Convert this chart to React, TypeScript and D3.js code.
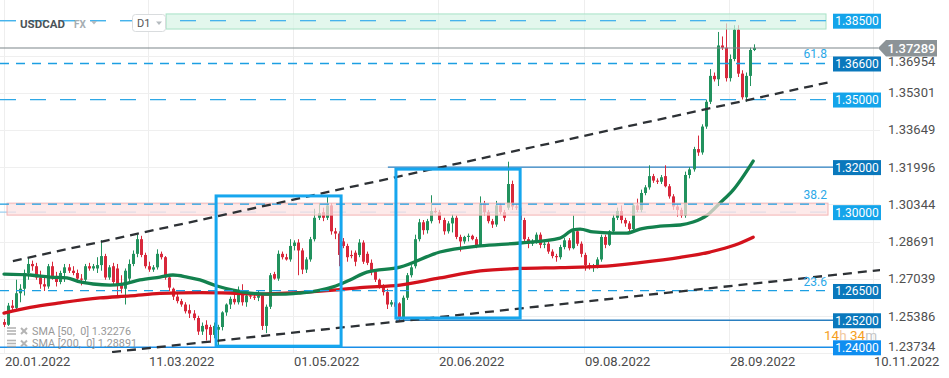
import React from 'react';
import * as d3 from 'd3';

const W = 949;
const H = 378;

// ---------- DATA ----------
// daily candles [open, high, low, close]
const ohlc: number[][] = [
  [1.2512,1.2525,1.2490,1.2500],[1.2500,1.2597,1.2495,1.2585],[1.2585,1.2610,1.2560,1.2575],[1.2575,1.2700,1.2565,1.2640],
  [1.2640,1.2680,1.2600,1.2660],[1.2660,1.2745,1.2630,1.2730],[1.2730,1.2796,1.2700,1.2770],[1.2770,1.2785,1.2740,1.2760],
  [1.2760,1.2775,1.2700,1.2710],[1.2710,1.2740,1.2660,1.2680],[1.2680,1.2710,1.2650,1.2670],[1.2670,1.2770,1.2660,1.2760],
  [1.2760,1.2780,1.2700,1.2715],[1.2715,1.2735,1.2670,1.2690],[1.2690,1.2740,1.2680,1.2730],[1.2730,1.2770,1.2690,1.2755],
  [1.2755,1.2770,1.2730,1.2740],[1.2740,1.2760,1.2720,1.2730],[1.2730,1.2745,1.2690,1.2705],[1.2705,1.2725,1.2675,1.2700],
  [1.2700,1.2770,1.2690,1.2760],[1.2760,1.2775,1.2740,1.2750],[1.2750,1.2770,1.2740,1.2760],[1.2750,1.2800,1.2730,1.2765],
  [1.2765,1.2876,1.2740,1.2805],[1.2805,1.2815,1.2700,1.2710],[1.2710,1.2765,1.2700,1.2755],[1.2760,1.2775,1.2680,1.2690],
  [1.2750,1.2770,1.2625,1.2680],[1.2680,1.2720,1.2640,1.2660],[1.2660,1.2750,1.2590,1.2740],[1.2705,1.2790,1.2690,1.2770],
  [1.2770,1.2830,1.2760,1.2815],[1.2815,1.2900,1.2800,1.2880],[1.2880,1.2895,1.2800,1.2810],[1.2810,1.2820,1.2750,1.2760],
  [1.2760,1.2780,1.2735,1.2745],[1.2745,1.2765,1.2735,1.2755],[1.2755,1.2835,1.2745,1.2815],[1.2815,1.2825,1.2790,1.2800],
  [1.2800,1.2805,1.2700,1.2710],[1.2710,1.2720,1.2650,1.2665],[1.2660,1.2665,1.2610,1.2625],[1.2625,1.2640,1.2595,1.2605],
  [1.2605,1.2615,1.2580,1.2590],[1.2590,1.2600,1.2550,1.2560],[1.2565,1.2590,1.2530,1.2550],[1.2550,1.2565,1.2520,1.2530],
  [1.2530,1.2540,1.2455,1.2470],[1.2470,1.2510,1.2455,1.2495],[1.2500,1.2520,1.2430,1.2480],[1.2490,1.2500,1.2420,1.2455],
  [1.2455,1.2510,1.2440,1.2495],[1.2478,1.2500,1.2405,1.2490],[1.2490,1.2560,1.2475,1.2555],[1.2555,1.2595,1.2540,1.2590],
  [1.2590,1.2625,1.2570,1.2615],[1.2615,1.2640,1.2590,1.2600],[1.2600,1.2670,1.2590,1.2650],[1.2650,1.2680,1.2585,1.2600],
  [1.2600,1.2640,1.2580,1.2630],[1.2630,1.2645,1.2615,1.2625],[1.2625,1.2640,1.2610,1.2620],[1.2620,1.2650,1.2605,1.2630],
  [1.2630,1.2640,1.2477,1.2495],[1.2495,1.2590,1.2463,1.2580],[1.2580,1.2730,1.2570,1.2720],[1.2725,1.2735,1.2700,1.2705],
  [1.2705,1.2830,1.2695,1.2815],[1.2815,1.2825,1.2790,1.2800],[1.2800,1.2815,1.2785,1.2790],[1.2790,1.2880,1.2780,1.2850],
  [1.2850,1.2875,1.2830,1.2865],[1.2865,1.2880,1.2720,1.2830],[1.2830,1.2840,1.2725,1.2745],[1.2745,1.2800,1.2730,1.2790],
  [1.2790,1.2890,1.2780,1.2880],[1.2880,1.3015,1.2870,1.2975],[1.2975,1.3040,1.2965,1.2995],[1.3000,1.3020,1.2960,1.2975],
  [1.2975,1.3076,1.2965,1.3030],[1.3030,1.3040,1.2900,1.2915],[1.2915,1.2930,1.2880,1.2905],[1.2905,1.2915,1.2760,1.2810],
  [1.2870,1.2885,1.2840,1.2850],[1.2850,1.2860,1.2780,1.2800],[1.2810,1.2830,1.2795,1.2805],[1.2820,1.2830,1.2760,1.2780],
  [1.2810,1.2880,1.2800,1.2865],[1.2865,1.2875,1.2770,1.2780],[1.2815,1.2825,1.2765,1.2775],[1.2775,1.2790,1.2720,1.2735],
  [1.2735,1.2745,1.2690,1.2700],[1.2700,1.2705,1.2660,1.2670],[1.2670,1.2680,1.2630,1.2645],[1.2645,1.2660,1.2570,1.2590],
  [1.2590,1.2610,1.2580,1.2600],[1.2600,1.2610,1.2560,1.2580],[1.2595,1.2600,1.2518,1.2530],[1.2530,1.2630,1.2520,1.2620],
  [1.2620,1.2730,1.2610,1.2720],[1.2720,1.2765,1.2710,1.2755],[1.2760,1.2900,1.2750,1.2880],[1.2880,1.2970,1.2870,1.2955],
  [1.2955,1.2965,1.2900,1.2920],[1.2920,1.2970,1.2905,1.2960],[1.2960,1.3075,1.2950,1.3005],[1.3005,1.3020,1.2995,1.3000],
  [1.3000,1.3010,1.2950,1.2965],[1.2965,1.2975,1.2900,1.2915],[1.2915,1.2960,1.2905,1.2950],[1.2950,1.2990,1.2910,1.2975],
  [1.2975,1.2985,1.2880,1.2890],[1.2890,1.2900,1.2825,1.2870],[1.2870,1.2895,1.2860,1.2890],[1.2890,1.2905,1.2870,1.2895],
  [1.2895,1.2900,1.2875,1.2880],[1.2880,1.2890,1.2840,1.2850],[1.2850,1.3070,1.2845,1.3040],[1.3040,1.3050,1.2985,1.3000],
  [1.3000,1.3010,1.2950,1.2960],[1.2960,1.2970,1.2930,1.2945],[1.2945,1.3050,1.2935,1.3030],[1.3030,1.3040,1.2990,1.3000],
  [1.3000,1.3010,1.2960,1.2975],[1.3020,1.3224,1.3010,1.3125],[1.3125,1.3140,1.3010,1.3025],[1.3025,1.3035,1.3010,1.3020],
  [1.3020,1.3030,1.2950,1.2965],[1.2965,1.2975,1.2870,1.2880],[1.2880,1.2890,1.2840,1.2860],[1.2860,1.2880,1.2850,1.2870],
  [1.2870,1.2910,1.2860,1.2900],[1.2900,1.2910,1.2840,1.2855],[1.2855,1.2870,1.2840,1.2860],[1.2860,1.2870,1.2815,1.2825],
  [1.2825,1.2835,1.2795,1.2805],[1.2805,1.2815,1.2780,1.2800],[1.2800,1.2855,1.2790,1.2845],[1.2845,1.2885,1.2835,1.2875],
  [1.2875,1.2885,1.2830,1.2840],[1.2840,1.2985,1.2835,1.2915],[1.2915,1.2925,1.2850,1.2860],[1.2860,1.2870,1.2800,1.2815],
  [1.2810,1.2820,1.2740,1.2765],[1.2765,1.2775,1.2745,1.2755],[1.2755,1.2770,1.2735,1.2760],[1.2760,1.2800,1.2750,1.2790],
  [1.2790,1.2900,1.2780,1.2890],[1.2890,1.2900,1.2840,1.2855],[1.2855,1.2920,1.2850,1.2915],[1.2915,1.2990,1.2905,1.2975],
  [1.2975,1.3020,1.2965,1.3005],[1.3005,1.3030,1.2950,1.2965],[1.2965,1.2975,1.2935,1.2950],[1.2950,1.2960,1.2905,1.2925],
  [1.2925,1.3040,1.2915,1.3030],[1.3030,1.3060,1.3000,1.3010],[1.3010,1.3100,1.3000,1.3085],[1.3085,1.3120,1.3075,1.3110],
  [1.3110,1.3208,1.3100,1.3160],[1.3160,1.3170,1.3130,1.3140],[1.3140,1.3150,1.3125,1.3135],[1.3135,1.3165,1.3125,1.3155],
  [1.3160,1.3208,1.3110,1.3115],[1.3115,1.3125,1.3060,1.3070],[1.3070,1.3080,1.3010,1.3025],[1.3025,1.3035,1.2980,1.3010],
  [1.3010,1.3020,1.2975,1.2985],[1.2985,1.3180,1.2975,1.3165],[1.3165,1.3200,1.3150,1.3190],[1.3190,1.3290,1.3180,1.3280],
  [1.3280,1.3340,1.3250,1.3265],[1.3265,1.3390,1.3255,1.3380],[1.3380,1.3500,1.3370,1.3490],[1.3490,1.3635,1.3480,1.3605],
  [1.3605,1.3620,1.3580,1.3590],[1.3590,1.3800,1.3560,1.3740],[1.3740,1.3780,1.3720,1.3730],[1.3730,1.3838,1.3580,1.3595],
  [1.3595,1.3700,1.3580,1.3680],[1.3680,1.3830,1.3670,1.3810],[1.3810,1.3830,1.3600,1.3615],[1.3615,1.3630,1.3500,1.3510],
  [1.3510,1.3620,1.3490,1.3605],[1.3605,1.3730,1.3560,1.3720],[1.3720,1.3745,1.3715,1.3729],
];

const dateTickIdx = [0, 35.7, 71.7, 107.6, 143.8, 179.8, 215.5];
const dateTickLabels = ['20.01.2022', '11.03.2022', '01.05.2022', '20.06.2022', '09.08.2022', '28.09.2022', '10.11.2022'];

const priceTicks = [1.23734, 1.25386, 1.27039, 1.28691, 1.30344, 1.31996, 1.33649, 1.35301, 1.36954];

const sma50Idx = [0, 6.5, 11.4, 15.6, 18.9, 22.1, 26.3, 29.5, 33.7, 38.7, 41.9, 45.4, 48.6, 52.8, 56.8, 61.0, 65.2, 69.2, 73.4, 77.6, 81.6, 85.8, 90.0, 98.2, 108.1, 118.1, 128.0, 137.9, 141.1, 142.9, 146.1, 151.0, 154.5, 157.7, 162.7, 167.7, 170.9, 174.4, 177.6, 180.8, 185.8];
const sma50Val = [1.2725, 1.2721, 1.2712, 1.2708, 1.2690, 1.2681, 1.2676, 1.2681, 1.2699, 1.2712, 1.2721, 1.2712, 1.2699, 1.2672, 1.2654, 1.2641, 1.2636, 1.2636, 1.2641, 1.2650, 1.2668, 1.2699, 1.2734, 1.2756, 1.2823, 1.2850, 1.2863, 1.2885, 1.2921, 1.2925, 1.2912, 1.2907, 1.2907, 1.2925, 1.2938, 1.2943, 1.2956, 1.2987, 1.3041, 1.3098, 1.3227];

const sma200Idx = [0, 6.5, 13.9, 23.8, 31.3, 38.7, 48.6, 56.1, 63.5, 73.4, 83.3, 88.3, 98.2, 108.1, 118.1, 128.0, 137.9, 147.8, 157.7, 167.7, 175.1, 181.3, 185.8];
const sma200Val = [1.2552, 1.2577, 1.2597, 1.2619, 1.2628, 1.2639, 1.2643, 1.2641, 1.2636, 1.2643, 1.2656, 1.2665, 1.2676, 1.2708, 1.2739, 1.2750, 1.2754, 1.2759, 1.2776, 1.2799, 1.2823, 1.2854, 1.2889];

const levelPrices = [1.385, 1.366, 1.35, 1.32, 1.30, 1.265, 1.252, 1.24];
const fibPrices = [1.366, 1.3036, 1.2652];
const fibLabels = ['61.8', '38.2', '23.6'];

const boxIdx = [[52.6, 83.6], [97.2, 128.0]];
const boxPrice = [[1.3072, 1.2405], [1.3191, 1.2530]];

const trendUpperIdx = [2.2, 204.9];
const trendUpperVal = [1.2783, 1.3578];
const trendLowerIdx = [26.8, 217.3];
const trendLowerVal = [1.2379, 1.2743];

const greenBand = [1.3880, 1.3813];
const pinkBand = [1.3040, 1.2987];

const lastPrice = 1.37289;
const sma50Last = 1.32276;
const sma200Last = 1.28891;

// ---------- STYLE / LAYOUT ----------
const PLOT_R = 880;
const PLOT_B = 353;
const BOX_X = 833;
const LINE_END = 826;
const GREEN = '#22925e';
const RED = '#d8283b';
const FONT = 'Roboto, "Noto Sans", Arial, sans-serif';

// per level: line dash (null = solid, 'none' = no line), colour, label box colour, start index
const levelStyle = [
  { dash: '16,14', color: '#46b3ec', box: '#14a4ea', start: -2 },
  { dash: 'none', color: '#1b98dd', box: '#0a78bc', start: -2 },
  { dash: '16,14', color: '#2ea8e6', box: '#14a4ea', start: -2 },
  { dash: null, color: '#2a7fc0', box: '#0a78bc', start: 95.2 },
  { dash: '16,14', color: '#9ccff0', box: '#14a4ea', start: -2 },
  { dash: 'none', color: '#1fa0e4', box: '#0a78bc', start: -2 },
  { dash: null, color: '#2a7fc0', box: '#0a78bc', start: 97.2 },
  { dash: null, color: '#1a8ee8', box: '#0f8ef0', start: -2 },
];

export default function App() {
  const N = ohlc.length;
  const xs = d3.scaleLinear().domain([0, N - 1]).range([4, 754]);
  const ys = d3.scaleLinear().domain([1.24, 1.385]).range([347.3, 20.7]);

  const line = d3
    .line<[number, number]>()
    .x((d) => xs(d[0]))
    .y((d) => ys(d[1]))
    .curve(d3.curveMonotoneX);

  const sma50Pts = sma50Idx.map((v, i) => [v, sma50Val[i]] as [number, number]);
  const sma200Pts = sma200Idx.map((v, i) => [v, sma200Val[i]] as [number, number]);

  const lineStart = (s: number) => (s < 0 ? 0 : xs(s));
  const yLast = ys(lastPrice);

  return (
    <svg
      width={W}
      height={H}
      style={{ position: 'absolute', left: 0, top: 0, background: '#fff' }}
      fontFamily={FONT}
    >
      <defs>
        <clipPath id="plot">
          <rect x={0} y={0} width={PLOT_R} height={PLOT_B} />
        </clipPath>
      </defs>
      <rect x={0} y={0} width={W} height={H} fill="#fff" />

      {/* grid */}
      {dateTickIdx.map((d, i) => (
        <line key={'vg' + i} x1={Math.round(xs(d)) + 0.5} x2={Math.round(xs(d)) + 0.5} y1={0} y2={PLOT_B} stroke="#eeeeee" />
      ))}
      {priceTicks.map((p, i) => (
        <line key={'hg' + i} x1={0} x2={PLOT_R} y1={Math.round(ys(p)) + 0.5} y2={Math.round(ys(p)) + 0.5} stroke="#efefef" />
      ))}

      <g clipPath="url(#plot)">
        {/* level lines */}
        {levelPrices.map((p, i) => {
          const st = levelStyle[i];
          if (st.dash === 'none') return null;
          return (
            <line
              key={'lv' + i}
              x1={lineStart(st.start)}
              x2={st.dash ? LINE_END : BOX_X}
              y1={ys(p)}
              y2={ys(p)}
              stroke={st.color}
              strokeWidth={st.dash ? 1.3 : 1.4}
              strokeDasharray={st.dash || undefined}
            />
          );
        })}

        {/* candles */}
        {ohlc.map(([o, h, l, c], i) => {
          const up = c >= o;
          const col = up ? GREEN : RED;
          const x = Math.round(xs(i));
          const y1 = ys(Math.max(o, c));
          const y2 = ys(Math.min(o, c));
          return (
            <g key={'c' + i}>
              <line x1={x + 0.5} x2={x + 0.5} y1={ys(h)} y2={ys(l)} stroke={col} strokeWidth={1} />
              <rect x={x - 1} y={y1} width={3} height={Math.max(1, y2 - y1)} fill={col} />
            </g>
          );
        })}

        {/* SMA lines */}
        <path d={line(sma200Pts) || ''} fill="none" stroke="#d3121c" strokeWidth={3.3} strokeLinecap="round" />
        <path d={line(sma50Pts) || ''} fill="none" stroke="#13814e" strokeWidth={3.3} strokeLinecap="round" />

        {/* bands (semi transparent, on top) */}
        <rect
          x={xs(40.2)}
          y={ys(greenBand[0])}
          width={LINE_END - xs(40.2)}
          height={ys(greenBand[1]) - ys(greenBand[0])}
          fill="rgba(215,244,230,0.7)"
          stroke="#a8e2c6"
          strokeWidth={1}
        />
        <rect
          x={xs(0.75)}
          y={ys(pinkBand[0])}
          width={828 - xs(0.75)}
          height={ys(pinkBand[1]) - ys(pinkBand[0])}
          fill="rgba(252,226,226,0.72)"
          stroke="#f3b3b3"
          strokeWidth={1}
        />
        {/* dashed level inside the green band, on top */}
        <line x1={0} x2={LINE_END} y1={ys(levelPrices[0])} y2={ys(levelPrices[0])} stroke="#46b3ec" strokeWidth={1.3} strokeDasharray="16,14" />

        {/* fib lines */}
        {fibPrices.map((p, i) => (
          <line key={'fb' + i} x1={0} x2={LINE_END} y1={ys(p)} y2={ys(p)} stroke="#1c9fe2" strokeWidth={1.3} strokeDasharray="9,7" />
        ))}

        {/* trend lines */}
        <line
          x1={xs(trendUpperIdx[0])}
          y1={ys(trendUpperVal[0])}
          x2={xs(trendUpperIdx[1])}
          y2={ys(trendUpperVal[1])}
          stroke="#2d3135"
          strokeWidth={2.3}
          strokeDasharray="9,6"
        />
        <line
          x1={xs(trendLowerIdx[0])}
          y1={ys(trendLowerVal[0])}
          x2={xs(trendLowerIdx[1])}
          y2={ys(trendLowerVal[1])}
          stroke="#2d3135"
          strokeWidth={2.3}
          strokeDasharray="9,6"
        />

        {/* rectangles */}
        {boxIdx.map((b, i) => (
          <rect
            key={'bx' + i}
            x={xs(b[0])}
            y={ys(boxPrice[i][0])}
            width={xs(b[1]) - xs(b[0])}
            height={ys(boxPrice[i][1]) - ys(boxPrice[i][0])}
            fill="none"
            stroke="#16a6ee"
            strokeWidth={3}
          />
        ))}

        {/* last price line */}
        <line x1={0} x2={878} y1={yLast} y2={yLast} stroke="#7d858a" strokeWidth={1.2} />
      </g>

      {/* fib labels */}
      {fibPrices.map((p, i) => (
        <text key={'fl' + i} x={827} y={ys(p) - 5} textAnchor="end" fontSize={12} fill="#2aa8e8">
          {fibLabels[i]}
        </text>
      ))}

      {/* y axis labels (the one hidden by the price tag is shown just below it) */}
      {priceTicks.map((p, i) => (
        <text
          key={'yl' + i}
          x={888}
          y={i === priceTicks.length - 1 ? yLast + 14 : Math.min(ys(p), 346)}
          dominantBaseline="central"
          fontSize={13}
          fill="#505050"
        >
          {p.toFixed(5)}
        </text>
      ))}

      {/* x axis labels */}
      {dateTickIdx.map((d, i) => (
        <text key={'xl' + i} x={Math.round(xs(d)) + 1} y={366} fontSize={13} fill="#4a4a4a">
          {dateTickLabels[i]}
        </text>
      ))}

      {/* level label boxes */}
      {levelPrices.map((p, i) => (
        <g key={'lb' + i}>
          <rect x={BOX_X} y={ys(p) - 7} width={48} height={15} fill={levelStyle[i].box} />
          <text x={BOX_X + 24} y={ys(p) + 0.5} textAnchor="middle" dominantBaseline="central" fontSize={12} fill="#fff">
            {p.toFixed(5)}
          </text>
        </g>
      ))}

      {/* current price tag */}
      <path
        d={`M878,${yLast} L886,${yLast - 8} L937,${yLast - 8} L937,${yLast + 8.5} L886,${yLast + 8.5} Z`}
        fill="#8c9397"
      />
      <text x={911.5} y={yLast + 0.5} textAnchor="middle" dominantBaseline="central" fontSize={13} fontWeight={500} fill="#fff">
        {lastPrice.toFixed(5)}
      </text>

      {/* countdown */}
      <text x={824} y={339.5} fontSize={13.5}>
        <tspan fill="#f5a01e">14</tspan>
        <tspan fill="#f2c9a0">h </tspan>
        <tspan fill="#f5a01e">34</tspan>
        <tspan fill="#c4c4c4">m</tspan>
      </text>

      {/* header */}
      <text x={20} y={28} fontSize={11.5} fontWeight={700} fill="#4b5358">USDCAD</text>
      <text x={74} y={28} fontSize={10} fontWeight={700} fill="#a6adb2">FX</text>
      <path d="M91,21 L97,21 L94,24.5 Z" fill="#b5bbbf" />
      <rect x={132.5} y={14.5} width={33} height={17} rx={3} fill="#fff" stroke="#d9dcde" />
      <text x={137} y={27} fontSize={11} fill="#555">D1</text>
      <path d="M156,21.5 L162,21.5 L159,25 Z" fill="#b5bbbf" />

      {/* legend */}
      {[sma50Last, sma200Last].map((v, i) => {
        const cy = 331 + i * 12.5;
        return (
          <g key={'lg' + i} opacity={0.85}>
            <line x1={7} x2={16} y1={cy - 3} y2={cy - 3} stroke="#a8a8a8" strokeWidth={1.6} />
            <line x1={7} x2={16} y1={cy} y2={cy} stroke="#a8a8a8" strokeWidth={1.6} />
            <line x1={7} x2={16} y1={cy + 3} y2={cy + 3} stroke="#a8a8a8" strokeWidth={1.6} />
            <line x1={21} x2={27} y1={cy - 3} y2={cy + 3} stroke="#a8a8a8" strokeWidth={2} />
            <line x1={21} x2={27} y1={cy + 3} y2={cy - 3} stroke="#a8a8a8" strokeWidth={2} />
            <text x={32} y={cy} dominantBaseline="central" fontSize={10.8} fill="#888" style={{ whiteSpace: 'pre' }}>
              {i === 0 ? `SMA [50,  0] ${v.toFixed(5)}` : `SMA [200,  0] ${v.toFixed(5)}`}
            </text>
          </g>
        );
      })}
    </svg>
  );
}
